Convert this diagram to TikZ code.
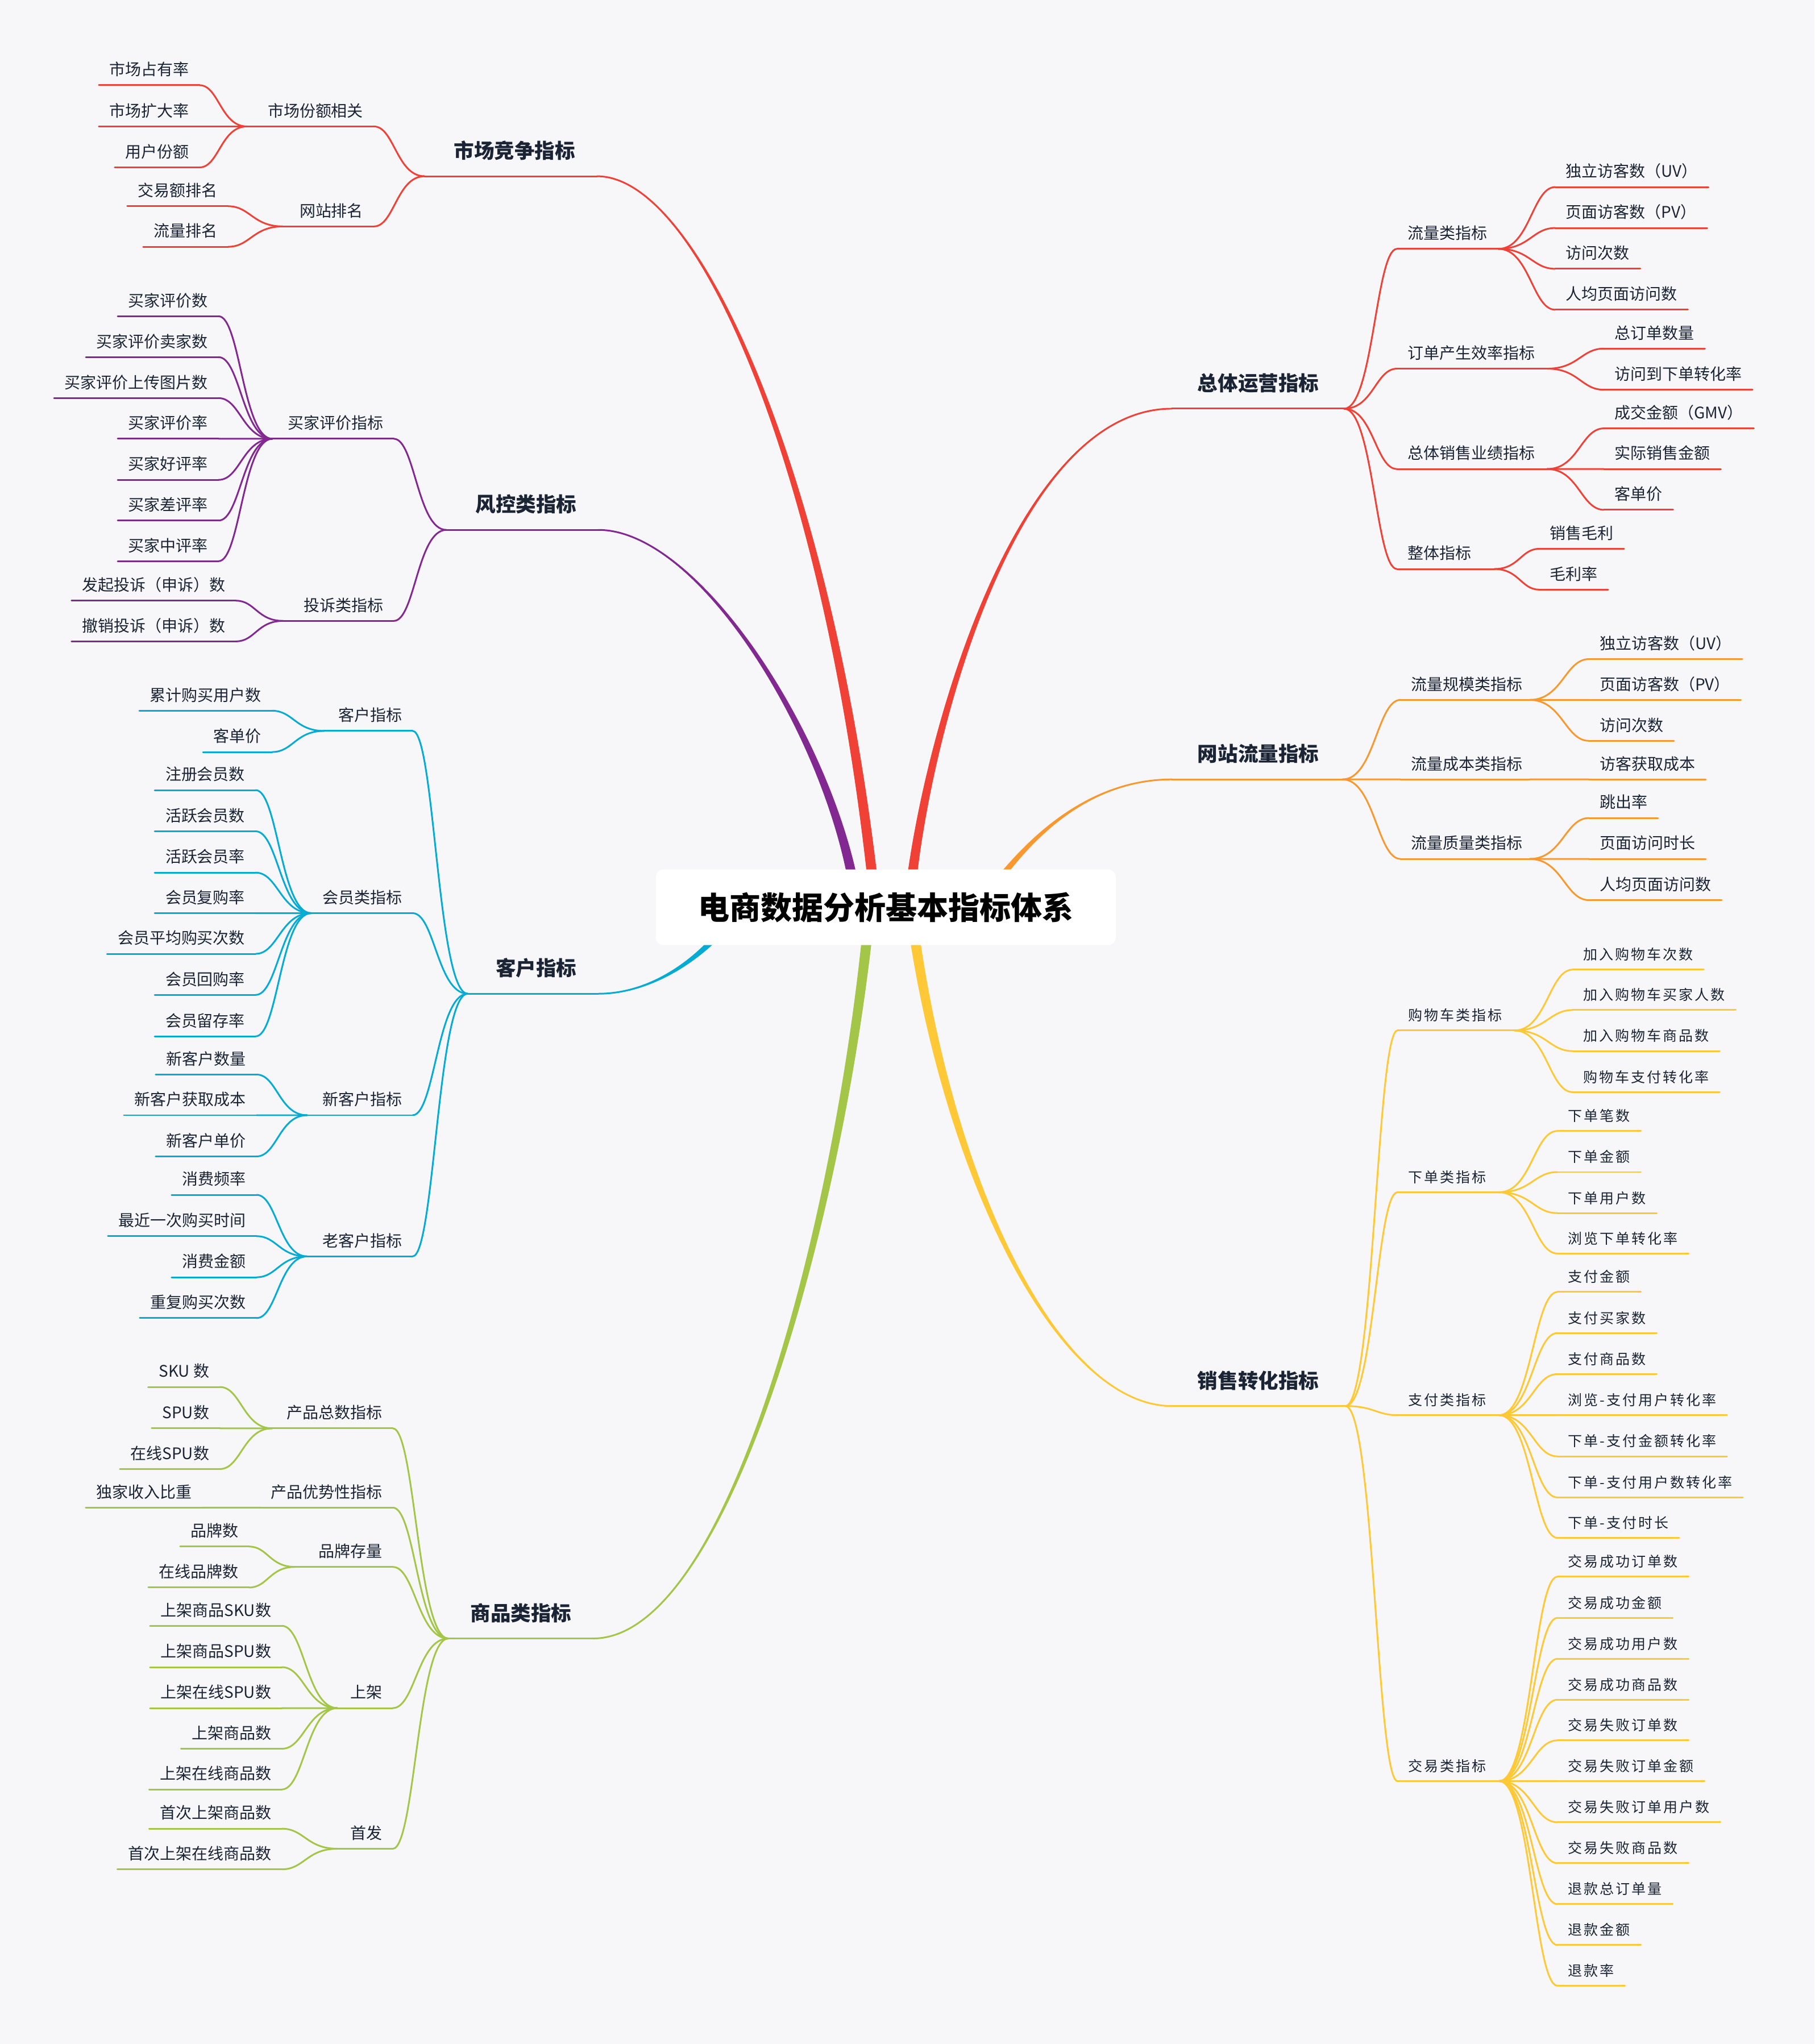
\documentclass[tikz,border=0pt]{standalone}
\usepackage{fontspec}
\setmainfont{Noto Sans CJK SC}
\newfontfamily\ylwfont{Noto Sans CJK SC}[LetterSpace=12]
\usetikzlibrary{calc}
\definecolor{bg}{HTML}{F7F7F9}
\definecolor{txt}{HTML}{1B2434}
\definecolor{cred}{HTML}{EF4136}
\definecolor{cpur}{HTML}{822891}
\definecolor{cblu}{HTML}{06ABD3}
\definecolor{cgrn}{HTML}{A3C548}
\definecolor{corg}{HTML}{F8982F}
\definecolor{cylw}{HTML}{FFC837}
\tikzset{
  leaf/.style={inner xsep=8pt, inner ysep=0pt, text=txt, font=\fontsize{12.2}{14}\selectfont},
  yleaf/.style={inner xsep=8pt, inner ysep=0pt, text=txt, font=\ylwfont\fontsize{10.9}{14}\selectfont},
  ns/cred/.style={leaf}, ns/cpur/.style={leaf}, ns/cblu/.style={leaf},
  ns/cgrn/.style={leaf}, ns/corg/.style={leaf}, ns/cylw/.style={yleaf},
  mainf/.style={inner sep=0pt, text=txt, font=\bfseries\fontsize{15.5}{18}\selectfont},
  ln/.style={line width=1.3pt, line cap=round},
  rootbox/.style={fill=white, rounded corners=6pt, minimum width=353pt, minimum height=58pt, inner sep=0pt, text=black, font=\bfseries\fontsize{24}{28}\selectfont},
}
% connector: colour, from, to
\newcommand{\conn}[3]{\draw[#1, ln] (#2) .. controls ($(#2)!0.55!(#2 -| #3)$) and ($(#3)!0.4!(#3 -| #2)$) .. (#3);}
% main nodes
\newcommand{\MainL}[6]{% name colour xfork xB y text
  \coordinate (#1-o) at (#3,#5);
  \coordinate (#1-i) at (#4,#5);
  \draw[#2, ln] (#1-o) -- (#1-i);
  \node[mainf, anchor=base east] (#1) at (#4-16.5,#5-13.7) {#6};}
\newcommand{\MainR}[6]{% name colour xB xfork y text
  \coordinate (#1-i) at (#3,#5);
  \coordinate (#1-o) at (#4,#5);
  \draw[#2, ln] (#1-i) -- (#1-o);
  \node[mainf, anchor=base west] (#1) at (#3+19.5,#5-13.7) {#6};}
% middle nodes
\newcommand{\MidL}[7]{% name colour parent xouter xinner y text
  \coordinate (#1-o) at (#4,#6);
  \coordinate (#1-i) at (#5,#6);
  \draw[#2, ln] (#1-o) -- (#1-i);
  \node[ns/#2, anchor=base east] (#1) at (#5,#6-7.5) {#7};
  \conn{#2}{#3-o}{#1-i}}
\newcommand{\MidR}[7]{% name colour parent xinner xouter y text
  \coordinate (#1-i) at (#4,#6);
  \coordinate (#1-o) at (#5,#6);
  \draw[#2, ln] (#1-i) -- (#1-o);
  \node[ns/#2, anchor=base west] (#1) at (#4,#6-7.5) {#7};
  \conn{#2}{#3-o}{#1-i}}
% leaves
\newcommand{\LeafL}[6]{% name colour parent xright y text
  \node[ns/#2, anchor=base east] (#1) at (#4,#5-7.5) {#6};
  \coordinate (#1-i) at (#4,#5);
  \coordinate (#1-o) at (#1.west |- #1-i);
  \draw[#2, ln] (#1-o) -- (#1-i);
  \conn{#2}{#3-o}{#1-i}}
\newcommand{\LeafR}[6]{% name colour parent xleft y text
  \node[ns/#2, anchor=base west] (#1) at (#4,#5-7.5) {#6};
  \coordinate (#1-i) at (#4,#5);
  \coordinate (#1-o) at (#1.east |- #1-i);
  \draw[#2, ln] (#1-i) -- (#1-o);
  \conn{#2}{#3-o}{#1-i}}
% tapered main branch: colour, A, c1, c2, B, side sign
\newcommand{\mbranch}[6]{%
  \fill[#1] ($(#2)+(4,0)$) .. controls ($(#3)+(3,0)$) and ($(#4)+(0,{(#6)*1.2})$) .. (#5) .. controls ($(#4)+(0,{-(#6)*1.2})$) and ($(#3)+(-3,0)$) .. ($(#2)+(-4,0)$) -- cycle;
  \draw[#1, ln] (#2) .. controls (#3) and (#4) .. (#5);}

\begin{document}
\begin{tikzpicture}[x=1pt, y=-1pt]
\fill[bg] (0,0) rectangle (1392,1568);
\useasboundingbox (0,0) rectangle (1392,1568);

% ---------- main nodes ----------
\MainL{mA}{cred}{325.7}{458}{135.2}{市场竞争指标}
\MainL{mB}{cpur}{342.4}{459}{406.5}{风控类指标}
\MainL{mC}{cblu}{358.8}{459}{762.3}{客户指标}
\MainL{mD}{cgrn}{343.9}{455}{1256.9}{商品类指标}
\MainR{mE}{cred}{899}{1031}{313.5}{总体运营指标}
\MainR{mF}{corg}{899}{1029.8}{597.9}{网站流量指标}
\MainR{mG}{cylw}{899}{1032}{1078.6}{销售转化指标}

% ---------- thick branches from the root ----------
\coordinate (aA) at (672,700);  \coordinate (kA1) at (640,380);  \coordinate (kA2) at (540,135.2);
\coordinate (aB) at (658,700);  \coordinate (kB1) at (645,580);  \coordinate (kB2) at (540,406.5);
\coordinate (aC) at (565,700);  \coordinate (kC1) at (540,735);  \coordinate (kC2) at (500,762.3);
\coordinate (aD) at (667,700);  \coordinate (kD1) at (645,930);  \coordinate (kD2) at (560,1256.9);
\coordinate (aE) at (697,700);  \coordinate (kE1) at (703,600);  \coordinate (kE2) at (770,313.5);
\coordinate (aF) at (745,705);  \coordinate (kF1) at (765,675);  \coordinate (kF2) at (815,597.9);
\coordinate (aG) at (699,700);  \coordinate (kG1) at (725,900);  \coordinate (kG2) at (810,1078.6);
\mbranch{cred}{aA}{kA1}{kA2}{mA-i}{-1}
\mbranch{cpur}{aB}{kB1}{kB2}{mB-i}{-1}
\mbranch{cblu}{aC}{kC1}{kC2}{mC-i}{1}
\mbranch{cgrn}{aD}{kD1}{kD2}{mD-i}{1}
\mbranch{cred}{aE}{kE1}{kE2}{mE-i}{1}
\mbranch{corg}{aF}{kF1}{kF2}{mF-i}{1}
\mbranch{cylw}{aG}{kG1}{kG2}{mG-i}{-1}

\node[rootbox] (root) at (679.5,696) {电商数据分析基本指标体系};

% ---------- A: 市场竞争指标 ----------
\MidL{a1}{cred}{mA}{189.4}{286.8}{97}{市场份额相关}
\MidL{a2}{cred}{mA}{217}{286.8}{173.7}{网站排名}
\LeafL{a11}{cred}{a1}{153.2}{65.4}{市场占有率}
\LeafL{a12}{cred}{a1}{153.2}{97}{市场扩大率}
\LeafL{a13}{cred}{a1}{153.2}{128.4}{用户份额}
\LeafL{a21}{cred}{a2}{175}{158.2}{交易额排名}
\LeafL{a22}{cred}{a2}{175}{189.3}{流量排名}

% ---------- B: 风控类指标 ----------
\MidL{b1}{cpur}{mB}{208.9}{302.1}{336.6}{买家评价指标}
\MidL{b2}{cpur}{mB}{217.2}{302.1}{476.3}{投诉类指标}
\LeafL{b11}{cpur}{b1}{167.7}{242.6}{买家评价数}
\LeafL{b12}{cpur}{b1}{167.7}{274}{买家评价卖家数}
\LeafL{b13}{cpur}{b1}{167.7}{305.4}{买家评价上传图片数}
\LeafL{b14}{cpur}{b1}{167.7}{336.6}{买家评价率}
\LeafL{b15}{cpur}{b1}{167.7}{368.1}{买家好评率}
\LeafL{b16}{cpur}{b1}{167.7}{399.3}{买家差评率}
\LeafL{b17}{cpur}{b1}{167.7}{430.5}{买家中评率}
\LeafL{b21}{cpur}{b2}{181.1}{460.8}{发起投诉（申诉）数}
\LeafL{b22}{cpur}{b2}{181.1}{492}{撤销投诉（申诉）数}

% ---------- C: 客户指标 ----------
\MidL{c1}{cblu}{mC}{248.7}{316.5}{560.7}{客户指标}
\MidL{c2}{cblu}{mC}{238.7}{316.5}{700.5}{会员类指标}
\MidL{c3}{cblu}{mC}{235.6}{316.5}{855.5}{新客户指标}
\MidL{c4}{cblu}{mC}{235.6}{316.5}{963.8}{老客户指标}
\LeafL{c11}{cblu}{c1}{208.7}{545.2}{累计购买用户数}
\LeafL{c12}{cblu}{c1}{208.7}{576.9}{客单价}
\LeafL{c21}{cblu}{c2}{196.1}{606.1}{注册会员数}
\LeafL{c22}{cblu}{c2}{196.1}{637.7}{活跃会员数}
\LeafL{c23}{cblu}{c2}{196.1}{669.4}{活跃会员率}
\LeafL{c24}{cblu}{c2}{196.1}{700.5}{会员复购率}
\LeafL{c25}{cblu}{c2}{196.1}{731.7}{会员平均购买次数}
\LeafL{c26}{cblu}{c2}{196.1}{763.2}{会员回购率}
\LeafL{c27}{cblu}{c2}{196.1}{795}{会员留存率}
\LeafL{c31}{cblu}{c3}{196.8}{824.3}{新客户数量}
\LeafL{c32}{cblu}{c3}{196.8}{855.5}{新客户获取成本}
\LeafL{c33}{cblu}{c3}{196.8}{887.1}{新客户单价}
\LeafL{c41}{cblu}{c4}{196.8}{916.6}{消费频率}
\LeafL{c42}{cblu}{c4}{196.8}{948.3}{最近一次购买时间}
\LeafL{c43}{cblu}{c4}{196.8}{979.8}{消费金额}
\LeafL{c44}{cblu}{c4}{196.8}{1011.1}{重复购买次数}

% ---------- D: 商品类指标 ----------
\MidL{d1}{cgrn}{mD}{208.7}{301.3}{1095.7}{产品总数指标}
\MidL{d2}{cgrn}{mD}{200}{301.3}{1156.5}{产品优势性指标}
\MidL{d3}{cgrn}{mD}{226.2}{301.3}{1202}{品牌存量}
\MidL{d4}{cgrn}{mD}{258.8}{301.3}{1310.3}{上架}
\MidL{d5}{cgrn}{mD}{258.8}{301.3}{1418.2}{首发}
\LeafL{d11}{cgrn}{d1}{168.7}{1064}{SKU 数}
\LeafL{d12}{cgrn}{d1}{168.7}{1095.7}{SPU数}
\LeafL{d13}{cgrn}{d1}{168.7}{1126.9}{在线SPU数}
\LeafL{d21}{cgrn}{d2}{155.4}{1156.5}{独家收入比重}
\LeafL{d31}{cgrn}{d3}{191.2}{1186.4}{品牌数}
\LeafL{d32}{cgrn}{d3}{191.2}{1217.8}{在线品牌数}
\LeafL{d41}{cgrn}{d4}{216.2}{1247.2}{上架商品SKU数}
\LeafL{d42}{cgrn}{d4}{216.2}{1278.9}{上架商品SPU数}
\LeafL{d43}{cgrn}{d4}{216.2}{1310.3}{上架在线SPU数}
\LeafL{d44}{cgrn}{d4}{216.2}{1341.5}{上架商品数}
\LeafL{d45}{cgrn}{d4}{216.2}{1372.7}{上架在线商品数}
\LeafL{d51}{cgrn}{d5}{216.2}{1402.8}{首次上架商品数}
\LeafL{d52}{cgrn}{d5}{216.2}{1434}{首次上架在线商品数}

% ---------- E: 总体运营指标 ----------
\MidR{e1}{cred}{mE}{1071.6}{1149.4}{190.9}{流量类指标}
\MidR{e2}{cred}{mE}{1071.6}{1186.8}{282.8}{订单产生效率指标}
\MidR{e3}{cred}{mE}{1071.6}{1186.8}{359.8}{总体销售业绩指标}
\MidR{e4}{cred}{mE}{1071.6}{1146.3}{436.5}{整体指标}
\LeafR{e11}{cred}{e1}{1193}{143.5}{独立访客数（UV）}
\LeafR{e12}{cred}{e1}{1193}{174.9}{页面访客数（PV）}
\LeafR{e13}{cred}{e1}{1193}{206.2}{访问次数}
\LeafR{e14}{cred}{e1}{1193}{237.6}{人均页面访问数}
\LeafR{e21}{cred}{e2}{1230.4}{267.4}{总订单数量}
\LeafR{e22}{cred}{e2}{1230.4}{299}{访问到下单转化率}
\LeafR{e31}{cred}{e3}{1230.4}{328.6}{成交金额（GMV）}
\LeafR{e32}{cred}{e3}{1230.4}{359.8}{实际销售金额}
\LeafR{e33}{cred}{e3}{1230.4}{391.1}{客单价}
\LeafR{e41}{cred}{e4}{1180.6}{421}{销售毛利}
\LeafR{e42}{cred}{e4}{1180.6}{452.3}{毛利率}

% ---------- F: 网站流量指标 ----------
\MidR{f1}{corg}{mF}{1074.3}{1173.3}{536.9}{流量规模类指标}
\MidR{f2}{corg}{mF}{1074.3}{1173.3}{597.9}{流量成本类指标}
\MidR{f3}{corg}{mF}{1074.3}{1173.3}{658.9}{流量质量类指标}
\LeafR{f11}{corg}{f1}{1218.9}{505.6}{独立访客数（UV）}
\LeafR{f12}{corg}{f1}{1218.9}{536.9}{页面访客数（PV）}
\LeafR{f13}{corg}{f1}{1218.9}{568.3}{访问次数}
\LeafR{f21}{corg}{f2}{1218.9}{597.9}{访客获取成本}
\LeafR{f31}{corg}{f3}{1218.9}{627.5}{跳出率}
\LeafR{f32}{corg}{f3}{1218.9}{658.9}{页面访问时长}
\LeafR{f33}{corg}{f3}{1218.9}{690.5}{人均页面访问数}

% ---------- G: 销售转化指标 ----------
\MidR{g1}{cylw}{mG}{1072}{1161.6}{790.5}{购物车类指标}
\MidR{g2}{cylw}{mG}{1072}{1149.9}{914.6}{下单类指标}
\MidR{g3}{cylw}{mG}{1072}{1149.9}{1085.6}{支付类指标}
\MidR{g4}{cylw}{mG}{1072}{1149.9}{1366.3}{交易类指标}
\LeafR{g11}{cylw}{g1}{1206.4}{743.8}{加入购物车次数}
\LeafR{g12}{cylw}{g1}{1206.4}{774.8}{加入购物车买家人数}
\LeafR{g13}{cylw}{g1}{1206.4}{806.3}{加入购物车商品数}
\LeafR{g14}{cylw}{g1}{1206.4}{837.8}{购物车支付转化率}
\LeafR{g21}{cylw}{g2}{1194.7}{867.6}{下单笔数}
\LeafR{g22}{cylw}{g2}{1194.7}{899.1}{下单金额}
\LeafR{g23}{cylw}{g2}{1194.7}{930.6}{下单用户数}
\LeafR{g24}{cylw}{g2}{1194.7}{961.6}{浏览下单转化率}
\LeafR{g31}{cylw}{g3}{1194.7}{991.1}{支付金额}
\LeafR{g32}{cylw}{g3}{1194.7}{1022.6}{支付买家数}
\LeafR{g33}{cylw}{g3}{1194.7}{1054.1}{支付商品数}
\LeafR{g34}{cylw}{g3}{1194.7}{1085.6}{浏览-支付用户转化率}
\LeafR{g35}{cylw}{g3}{1194.7}{1117.2}{下单-支付金额转化率}
\LeafR{g36}{cylw}{g3}{1194.7}{1148.7}{下单-支付用户数转化率}
\LeafR{g37}{cylw}{g3}{1194.7}{1179.7}{下单-支付时长}
\LeafR{g41}{cylw}{g4}{1194.7}{1209.5}{交易成功订单数}
\LeafR{g42}{cylw}{g4}{1194.7}{1241.1}{交易成功金额}
\LeafR{g43}{cylw}{g4}{1194.7}{1272.5}{交易成功用户数}
\LeafR{g44}{cylw}{g4}{1194.7}{1303.9}{交易成功商品数}
\LeafR{g45}{cylw}{g4}{1194.7}{1335.1}{交易失败订单数}
\LeafR{g46}{cylw}{g4}{1194.7}{1366.3}{交易失败订单金额}
\LeafR{g47}{cylw}{g4}{1194.7}{1397.9}{交易失败订单用户数}
\LeafR{g48}{cylw}{g4}{1194.7}{1429.3}{交易失败商品数}
\LeafR{g49}{cylw}{g4}{1194.7}{1460.7}{退款总订单量}
\LeafR{g410}{cylw}{g4}{1194.7}{1492.1}{退款金额}
\LeafR{g411}{cylw}{g4}{1194.7}{1523.3}{退款率}
\end{tikzpicture}
\end{document}
